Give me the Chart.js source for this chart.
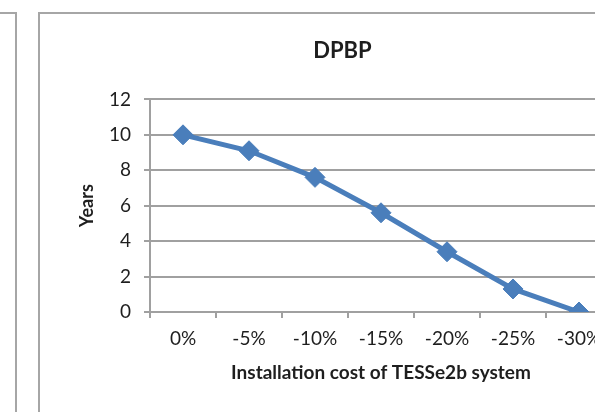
<!DOCTYPE html>
<html>
<head>
<meta charset="utf-8">
<script src="https://cdn.jsdelivr.net/npm/chart.js@4.4.0/dist/chart.umd.min.js"></script>
<style>
  html,body{margin:0;padding:0;background:#fff;overflow:hidden;width:595px;height:412px;}
  .frame{position:absolute;border:2px solid #a6a6a6;box-sizing:border-box;}
  #leftFrame{left:-20px;top:12px;width:37px;height:440px;}
  #mainFrame{left:38px;top:12px;width:620px;height:440px;}
  #dpbpChart{position:absolute;left:0;top:0;}
</style>
</head>
<body>
<div class="frame" id="leftFrame"></div>
<div class="frame" id="mainFrame"></div>
<canvas id="dpbpChart" width="624" height="412"></canvas>
<script>
// ========== DPBP vs installation cost ==========
const costSteps=['0%','-5%','-10%','-15%','-20%','-25%','-30%'];
const dpbpYears=[10,9.1,7.6,5.6,3.4,1.3,0];
const yTicks=[0,2,4,6,8,10,12];

const FONT='Lato, "Open Sans", sans-serif';
const TXT='#1e1e1e';
const BLUE='#4a7ebb';
const GRID='#a0a0a0';

const ctx=document.getElementById('dpbpChart').getContext('2d');
new Chart(ctx,{
  type:'line',
  data:{
    labels:costSteps,
    datasets:[{
      label:'DPBP',
      data:dpbpYears,
      borderColor:BLUE,
      backgroundColor:BLUE,
      borderWidth:5,
      pointStyle:'rectRot',
      pointRadius:10,
      pointBorderWidth:1,
      pointBackgroundColor:BLUE,
      pointBorderColor:BLUE,
      tension:0,
      fill:false
    }]
  },
  options:{
    responsive:false,
    animation:false,
    devicePixelRatio:1,
    layout:{padding:{left:73,right:12,top:0,bottom:0}},
    plugins:{
      legend:{display:false},
      tooltip:{enabled:false},
      title:{
        display:true,
        text:'DPBP',
        color:TXT,
        font:{family:FONT,size:22,weight:'bold',lineHeight:1.2},
        padding:{top:38,bottom:35}
      }
    },
    scales:{
      x:{
        type:'category',
        offset:true,
        afterFit:s=>{s.height=100;},
        grid:{offset:true,drawOnChartArea:false,drawTicks:true,tickLength:6,color:GRID,lineWidth:2},
        border:{color:GRID,width:2},
        ticks:{color:TXT,font:{family:FONT,size:19},padding:9,maxRotation:0,autoSkip:false},
        title:{display:true,text:'Installation cost of TESSe2b system',color:TXT,
          font:{family:FONT,size:19,weight:'bold',lineHeight:1.2},padding:{top:0,bottom:28}}
      },
      y:{
        min:0,max:12,
        afterFit:s=>{s.width=77;},
        afterBuildTicks:s=>{s.ticks=yTicks.map(v=>({value:v}));},
        grid:{color:GRID,lineWidth:2,drawTicks:true,tickLength:6},
        border:{color:GRID,width:2},
        ticks:{color:TXT,font:{family:FONT,size:19},padding:13},
        title:{display:true,text:'Years',color:TXT,
          font:{family:FONT,size:18,weight:'bold',lineHeight:1.2},padding:{top:3,bottom:0}}
      }
    }
  }
});
</script>
</body>
</html>
